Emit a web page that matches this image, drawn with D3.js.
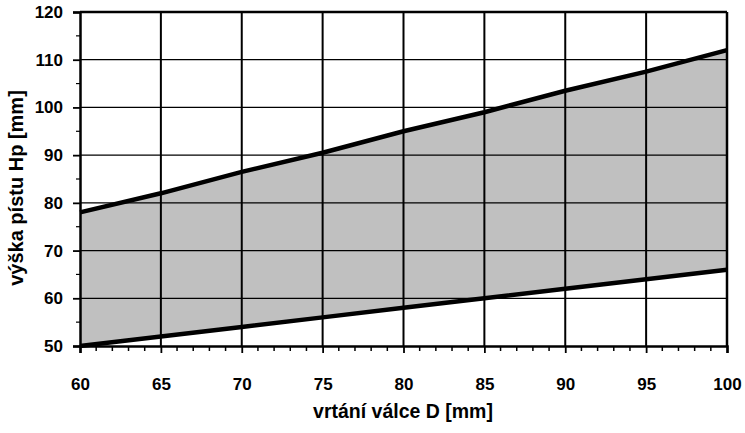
<!DOCTYPE html>
<html><head><meta charset="utf-8">
<script src="https://cdn.jsdelivr.net/npm/d3@7"></script>
<style>body{margin:0;background:#fff}svg{display:block}text{font-family:"Liberation Sans",Arial,sans-serif;font-weight:bold}</style>
</head><body>
<script>
const bore = [60, 65, 70, 75, 80, 85, 90, 95, 100];
const upperHeight = [78, 82, 86.5, 90.5, 95, 99, 103.5, 107.5, 112];
const lowerHeight = [50, 52, 54, 56, 58, 60, 62, 64, 66];
const xTicks = [60, 65, 70, 75, 80, 85, 90, 95, 100];
const yTicks = [50, 60, 70, 80, 90, 100, 110, 120];
const xTitle = "vrtání válce D [mm]";
const yTitle = "výška pístu Hp [mm]";

const W = 745, H = 433;
const m = {l: 80, r: 18, t: 12, b: 87};
const svg = d3.select("body").append("svg").attr("width", W).attr("height", H);
const x = d3.scaleLinear().domain([60, 100]).range([m.l, W - m.r]);
const y = d3.scaleLinear().domain([50, 120]).range([H - m.b, m.t]);

const data = bore.map((d, i) => ({x: d, u: upperHeight[i], l: lowerHeight[i]}));

// area
svg.append("path").datum(data)
  .attr("d", d3.area().x(d => x(d.x)).y0(d => y(d.l)).y1(d => y(d.u)))
  .attr("fill", "#c0c0c0");

// grid
svg.append("g").selectAll("line").data(yTicks.filter(v => v > 50 && v < 120)).join("line")
  .attr("x1", x(60)).attr("x2", x(100)).attr("y1", d => y(d)).attr("y2", d => y(d))
  .attr("stroke", "#000").attr("stroke-width", 1.2);
svg.append("g").selectAll("line").data(xTicks.filter(v => v > 60 && v < 100)).join("line")
  .attr("y1", y(50)).attr("y2", y(120)).attr("x1", d => x(d)).attr("x2", d => x(d))
  .attr("stroke", "#000").attr("stroke-width", 2);

// lines
[ "u", "l" ].forEach(k => {
  svg.append("path").datum(data)
    .attr("d", d3.line().x(d => x(d.x)).y(d => y(d[k])))
    .attr("fill", "none").attr("stroke", "#000").attr("stroke-width", 4.5);
});

// border
svg.append("line").attr("x1", x(60)).attr("x2", x(100)).attr("y1", y(120)).attr("y2", y(120)).attr("stroke", "#000").attr("stroke-width", 2.5);
svg.append("line").attr("x1", x(100)).attr("x2", x(100)).attr("y1", y(120)).attr("y2", y(50)).attr("stroke", "#000").attr("stroke-width", 2.5);

// axes
const xAxis = svg.append("g").attr("transform", `translate(0,${y(50)})`)
  .call(d3.axisBottom(x).tickValues(xTicks).tickSize(7).tickPadding(25).tickFormat(d3.format("d")));
const xMinor = d3.range(60, 101, 1).filter(v => v % 5 !== 0);
xAxis.selectAll(".minor").data(xMinor).join("line").attr("class", "minor")
  .attr("x1", d => x(d)).attr("x2", d => x(d)).attr("y1", 0).attr("y2", 5)
  .attr("stroke", "#000").attr("stroke-width", 1.5);
const yAxis = svg.append("g").attr("transform", `translate(${x(60)},0)`)
  .call(d3.axisLeft(y).tickValues(yTicks).tickSize(7).tickPadding(10).tickFormat(d3.format("d")));
const yMinor = d3.range(55, 120, 10);
yAxis.selectAll(".minor").data(yMinor).join("line").attr("class", "minor")
  .attr("y1", d => y(d)).attr("y2", d => y(d)).attr("x1", 0).attr("x2", -4)
  .attr("stroke", "#000").attr("stroke-width", 1.2);
[xAxis, yAxis].forEach(a => {
  a.select(".domain").attr("stroke", "#000").attr("stroke-width", 2.5);
  a.selectAll(".tick line").attr("stroke", "#000").attr("stroke-width", 1.8);
  a.selectAll("text").attr("font-size", 17).attr("fill", "#000")
    .attr("font-family", "Liberation Sans, Arial, sans-serif").attr("font-weight", "bold");
});

svg.append("text").attr("x", 403).attr("y", 418).attr("text-anchor", "middle")
  .attr("font-size", 19.5).text(xTitle);
svg.append("text").attr("transform", `translate(23,188) rotate(-90)`)
  .attr("text-anchor", "middle").attr("font-size", 20).text(yTitle);
</script>
</body></html>
